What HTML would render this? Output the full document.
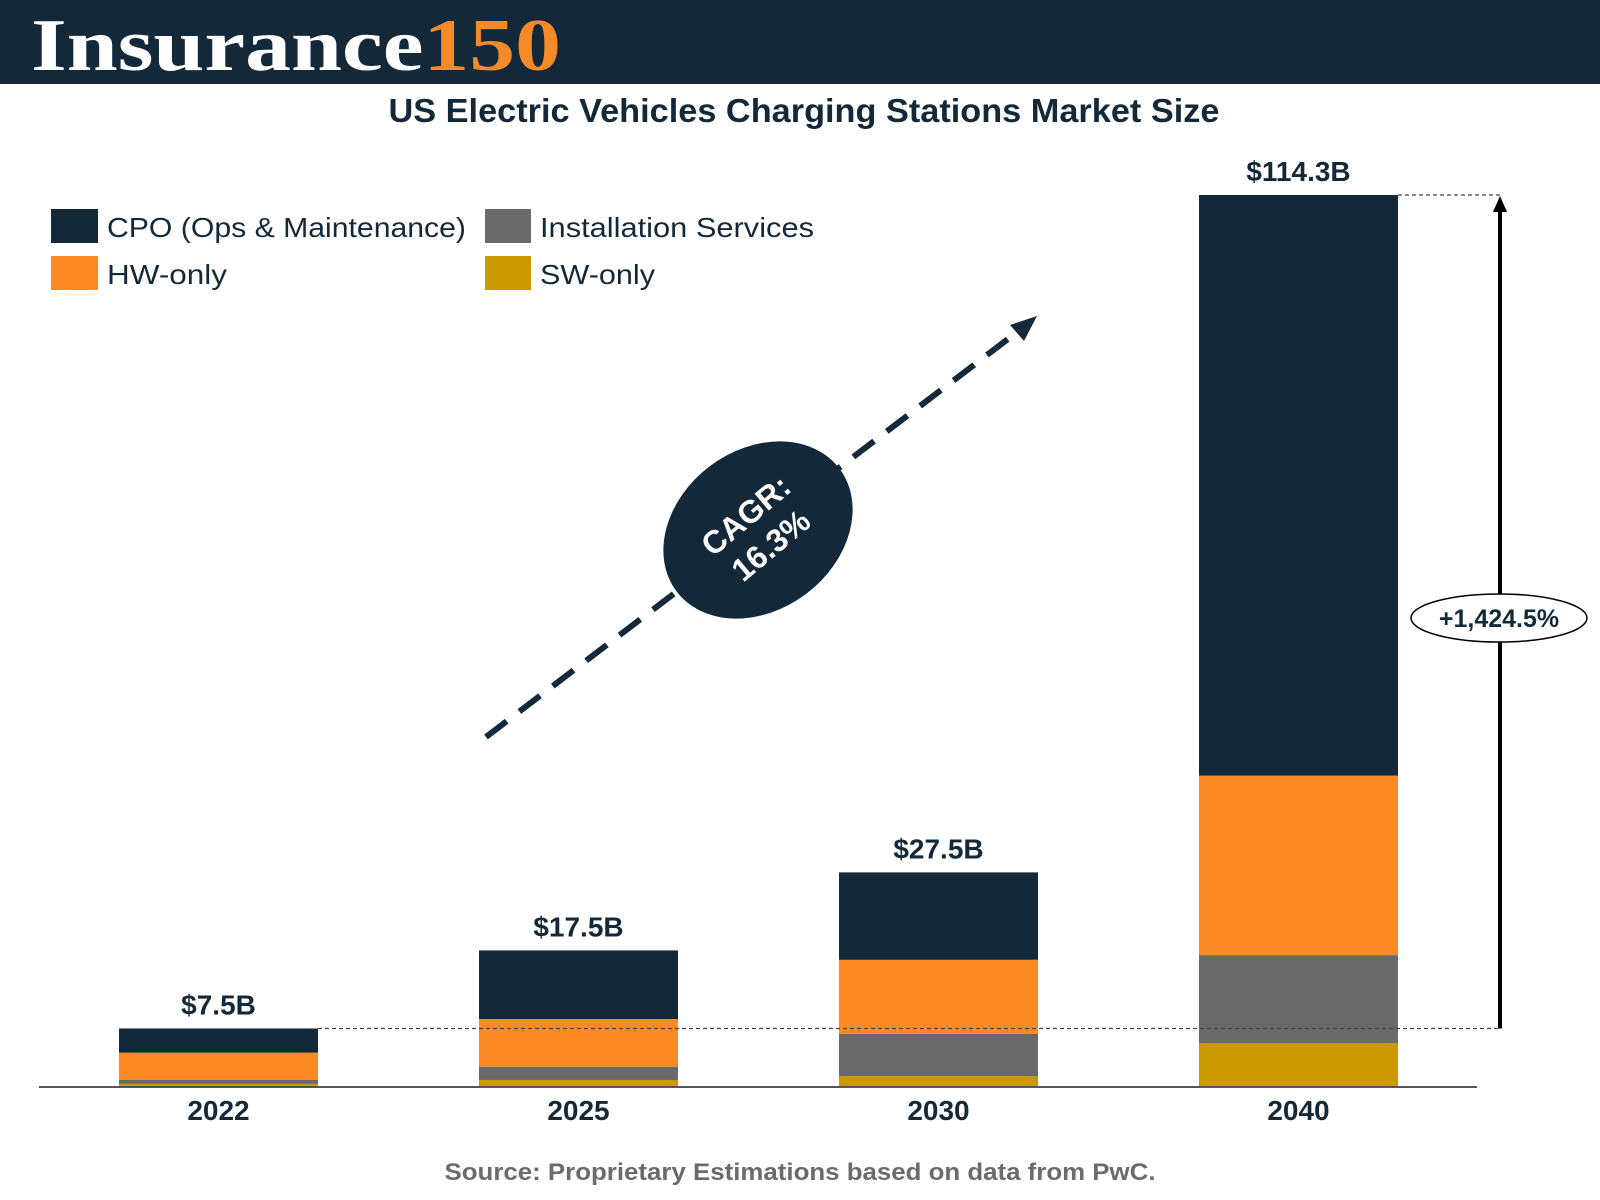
<!DOCTYPE html>
<html><head><meta charset="utf-8"><style>
html,body{margin:0;padding:0;background:#fff;}
svg{display:block;}
text{font-family:"Liberation Sans",sans-serif;font-weight:bold;}
</style></head><body>
<svg id="chart" width="1600" height="1200" viewBox="0 0 1600 1200">
<rect x="0" y="0" width="1600" height="84" fill="#13293a"/>
<text x="31" y="70" font-size="74" fill="#fff" textLength="530" lengthAdjust="spacingAndGlyphs" style="font-family:'Liberation Serif',serif;font-weight:bold">Insurance<tspan fill="#f58a2a">150</tspan></text>
<text x="804" y="122" font-size="33" fill="#13293a" text-anchor="middle" textLength="831" lengthAdjust="spacingAndGlyphs">US Electric Vehicles Charging Stations Market Size</text>
<g>
<rect x="51" y="209" width="47" height="34" fill="#13293a"/>
<text x="107" y="237" font-size="28" fill="#13293a" textLength="359" lengthAdjust="spacingAndGlyphs" style="font-weight:normal">CPO (Ops &amp; Maintenance)</text>
<rect x="51" y="256" width="47" height="34" fill="#fb8a24"/>
<text x="107" y="284" font-size="28" fill="#13293a" textLength="120" lengthAdjust="spacingAndGlyphs" style="font-weight:normal">HW-only</text>
<rect x="485" y="209" width="46" height="34" fill="#696969"/>
<text x="540" y="237" font-size="28" fill="#13293a" textLength="274" lengthAdjust="spacingAndGlyphs" style="font-weight:normal">Installation Services</text>
<rect x="485" y="256" width="46" height="34" fill="#cc9a00"/>
<text x="540" y="284" font-size="28" fill="#13293a" textLength="115" lengthAdjust="spacingAndGlyphs" style="font-weight:normal">SW-only</text>
</g>
<g id="bars"></g>
<line x1="39" y1="1087" x2="1477" y2="1087" stroke="#555" stroke-width="2"/>
<line x1="486" y1="737" x2="1025" y2="326" stroke="#13293a" stroke-width="6" stroke-dasharray="26,16"/>
<polygon points="1037,316 1010,325 1024,341" fill="#13293a"/>
<ellipse cx="758" cy="530" rx="102" ry="80" transform="rotate(-37 758 530)" fill="#13293a"/>
<g transform="translate(758 530) rotate(-40)">
<text x="0" y="-8" font-size="32" fill="#fff" text-anchor="middle">CAGR:</text>
<text x="0" y="31" font-size="32" fill="#fff" text-anchor="middle">16.3%</text>
</g>
<line id="dot1" x1="1398" y1="195" x2="1500" y2="195" stroke="#444" stroke-width="1.3" stroke-dasharray="4,3"/>
<line id="dot2" x1="318" y1="1030" x2="1500" y2="1030" stroke="#444" stroke-width="1.3" stroke-dasharray="4,3"/>
<line id="growthLine" x1="1500" y1="1030" x2="1500" y2="210" stroke="#000" stroke-width="4"/>
<polygon id="growthHead" points="1500,196 1493,212 1507,212" fill="#000"/>
<ellipse cx="1499" cy="618" rx="88" ry="24" fill="#fff" stroke="#000" stroke-width="1.5"/>
<text x="1499" y="627" font-size="25" fill="#13293a" text-anchor="middle">+1,424.5%</text>
<text x="800" y="1180" font-size="24" fill="#6b6b6b" text-anchor="middle" textLength="711" lengthAdjust="spacingAndGlyphs">Source: Proprietary Estimations based on data from PwC.</text>
</svg>
<script>
const years = ["2022","2025","2030","2040"];
const totalLabels = ["$7.5B","$17.5B","$27.5B","$114.3B"];
const swOnly = [0.4, 0.9, 1.4, 5.6];
const installation = [0.5, 1.7, 5.4, 11.3];
const hwOnly = [3.5, 6.1, 9.5, 23.0];
const cpo = [3.1, 8.8, 11.2, 74.4];

const NS = "http://www.w3.org/2000/svg";
const g = document.getElementById("bars");
const baseY = 1087, pxPerB = 892 / 114.3;
const barW = 199, firstX = 119, stepX = 360;
function yScale(v){ return baseY - v * pxPerB; }
function xScale(i){ return firstX + i * stepX; }
const series = [
  {name:"sw", vals:swOnly, color:"#cc9a00"},
  {name:"installation", vals:installation, color:"#696969"},
  {name:"hw", vals:hwOnly, color:"#fb8a24"},
  {name:"cpo", vals:cpo, color:"#13293a"}
];
const tops = [];
years.forEach((yr, i) => {
  let cum = 0;
  series.forEach(s => {
    const v = s.vals[i];
    const r = document.createElementNS(NS, "rect");
    r.setAttribute("x", xScale(i));
    r.setAttribute("y", yScale(cum + v));
    r.setAttribute("width", barW);
    r.setAttribute("height", v * pxPerB);
    r.setAttribute("fill", s.color);
    
    
    g.appendChild(r);
    cum += v;
  });
  tops.push(yScale(cum));
  const t = document.createElementNS(NS, "text");
  t.setAttribute("x", xScale(i) + barW / 2);
  t.setAttribute("y", yScale(cum) - 14);
  t.setAttribute("font-size", "28");
  t.setAttribute("fill", "#13293a");
  t.setAttribute("text-anchor", "middle");
  t.textContent = totalLabels[i];
  
  
  g.appendChild(t);
  const xl = document.createElementNS(NS, "text");
  xl.setAttribute("x", xScale(i) + barW / 2);
  xl.setAttribute("y", 1120);
  xl.setAttribute("font-size", "28");
  xl.setAttribute("fill", "#13293a");
  xl.setAttribute("text-anchor", "middle");
  xl.textContent = yr;
  
  
  g.appendChild(xl);
});
const last = tops.length - 1;
document.getElementById("dot1").setAttribute("y1", tops[last]);
document.getElementById("dot1").setAttribute("y2", tops[last]);
document.getElementById("dot2").setAttribute("y1", tops[0]);
document.getElementById("dot2").setAttribute("y2", tops[0]);
document.getElementById("growthLine").setAttribute("y1", tops[0]);
document.getElementById("growthLine").setAttribute("y2", tops[last] + 14);
document.getElementById("growthHead").setAttribute("points",
  `1500,${tops[last]+1} 1493,${tops[last]+17} 1507,${tops[last]+17}`);
</script>
</body></html>
